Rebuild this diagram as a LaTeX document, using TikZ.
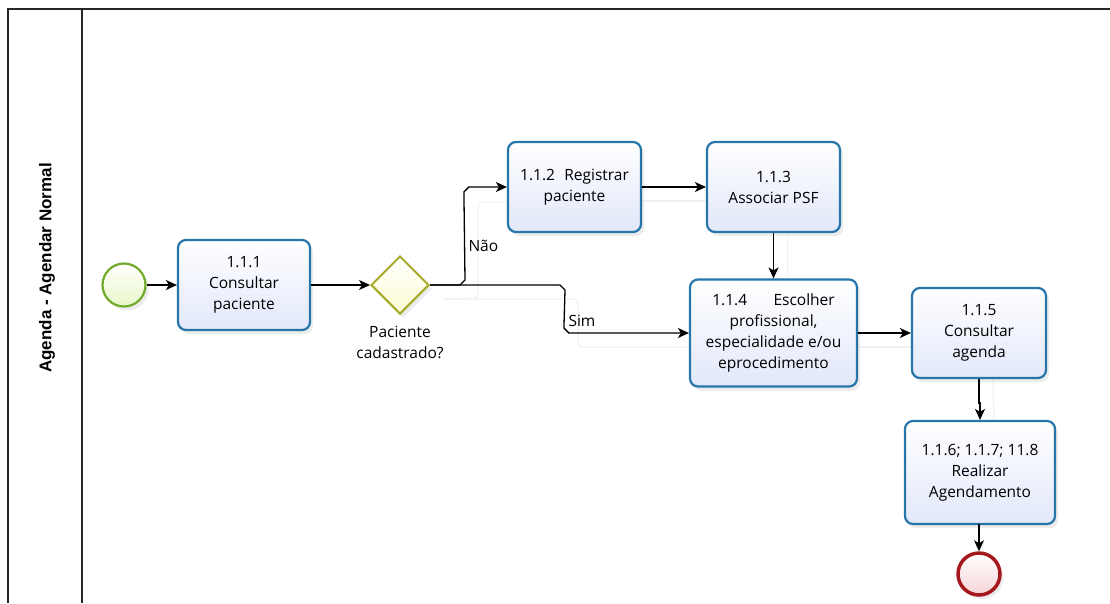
\documentclass[tikz,border=0pt]{standalone}
\usepackage{fontspec}
\setmainfont{Open Sans}
\newfontfamily\lanefont{Liberation Sans}
\usetikzlibrary{shapes.geometric,arrows.meta,shadows,calc,backgrounds}

\definecolor{taskline}{RGB}{38,118,170}
\definecolor{taskfill}{RGB}{226,232,250}
\definecolor{startline}{RGB}{112,172,42}
\definecolor{startfill}{RGB}{232,247,200}
\definecolor{gwline}{RGB}{168,168,40}
\definecolor{gwfill}{RGB}{252,252,212}
\definecolor{endline}{RGB}{165,25,30}
\definecolor{endfill}{RGB}{246,212,214}

\begin{document}
\begin{tikzpicture}[x=1pt,y=-1pt,
  txt/.style={font=\fontsize{15.5}{21}\selectfont},
  task/.style={txt, draw=taskline, line width=2.2pt, rounded corners=8pt,
    top color=white, bottom color=taskfill, align=center, inner sep=2pt,
    drop shadow={shadow xshift=3pt, shadow yshift=-4pt, opacity=0.15}},
  startev/.style={circle, draw=startline, line width=2.2pt, inner sep=0pt,
    minimum size=43pt, top color=white, bottom color=startfill,
    drop shadow={shadow xshift=3pt, shadow yshift=-4pt, opacity=0.15}},
  endev/.style={circle, draw=endline, line width=3.5pt, inner sep=0pt,
    minimum size=42pt, top color=white, bottom color=endfill,
    drop shadow={shadow xshift=3pt, shadow yshift=-4pt, opacity=0.15}},
  gateway/.style={diamond, draw=gwline, line width=2pt, inner sep=0pt,
    minimum width=58pt, minimum height=58pt, top color=white, bottom color=gwfill,
    drop shadow={shadow xshift=3pt, shadow yshift=-4pt, opacity=0.15}},
  flow/.style={line width=1.3pt, -{Stealth[length=11pt,width=10pt,inset=3pt]}},
  trail/.style={line width=1.2pt, black!5, rounded corners=4pt},
  pool/.style={line width=1.6pt, black!85}
]
\useasboundingbox (0,0) rectangle (1110,603);
\begin{pgfonlayer}{background}
  \fill[white] (0,0) rectangle (1110,603);
\end{pgfonlayer}

% pool and lane frame
\draw[pool] (1110,9) -- (8,9) -- (8,603);
\draw[pool] (82,9) -- (82,603);
\node[rotate=90, font=\lanefont\bfseries\fontsize{17}{20}\selectfont] (lane) at (47,268) {Agenda - Agendar Normal};

% events, gateway and tasks
\node[startev] (start) at (124,285) {};
\node[task, minimum width=132pt, minimum height=90pt] (t111) at (244,285) {1.1.1\\Consultar\\paciente};
\node[gateway] (gw) at (400,285) {};
\node[txt, align=center] (gwlabel) at (400,342) {Paciente\\cadastrado?};
\node[task, minimum width=133pt, minimum height=90pt] (t112) at (574.5,187) {1.1.2\hspace{0.6em}Registrar\\paciente};
\node[task, minimum width=133pt, minimum height=90pt] (t113) at (773.5,187) {1.1.3\\Associar PSF};
\node[task, minimum width=167pt, minimum height=107pt] (t114) at (773.5,333) {1.1.4\hspace{1.7em}Escolher\\profissional,\\especialidade e/ou\\eprocedimento};
\node[task, minimum width=134pt, minimum height=90pt] (t115) at (979,333) {1.1.5\\Consultar\\agenda};
\node[task, minimum width=150pt, minimum height=103pt] (t116) at (980,472.5) {1.1.6; 1.1.7; 11.8\\Realizar\\Agendamento};
\node[endev] (end) at (979,574) {};

% sequence flows
\draw[flow] (start) -- (t111);
\draw[flow] (t111) -- (gw);
\draw[flow] (gw.east) -- ++(30,0) -- ++(5,-5) -- ($(t112.west)+(-43,5)$) -- ++(5,-5) -- (t112.west);
\node[txt, anchor=west] (nao) at (465,246) {Não};
\draw[flow] (gw.east) -- ++(130,0) -- ++(5,5) -- ($(t114.west)+(-125,-5)$) -- ++(5,5) -- (t114.west);
\node[txt, anchor=west] (sim) at (565,321) {Sim};
\draw[flow] (t112) -- (t113);
\draw[flow] (t113) -- (t114);
\draw[flow] (t114) -- (t115);
\draw[flow] (t115.south) -- ++(0,24) -| (t116.north);
\draw[flow] (t116.south) -| (end.north);

% faint trails under the flows
\begin{pgfonlayer}{background}
  \draw[trail] ($(gw.east)+(14,14)$) -- ($(t112.west)+(-29,111)$) -- ($(t112.west)+(-29,15)$) -- ($(t112.west)+(0,15)$);
  \draw[trail] ($(gw.east)+(14,14)$) -- ($(t114.west)+(-111,-34)$) -- ($(t114.west)+(-111,14)$) -- ($(t114.west)+(0,14)$);
  \draw[trail] ($(t112.east)+(0,14)$) -- ($(t113.west)+(0,14)$);
  \draw[trail] ($(t113.south)+(14,0)$) -- ($(t114.north)+(14,0)$);
  \draw[trail] ($(t114.east)+(0,14)$) -- ($(t115.west)+(0,14)$);
  \draw[trail] ($(t115.south)+(14,0)$) -- ($(t116.north)+(14,0)$);
\end{pgfonlayer}
\end{tikzpicture}
\end{document}
